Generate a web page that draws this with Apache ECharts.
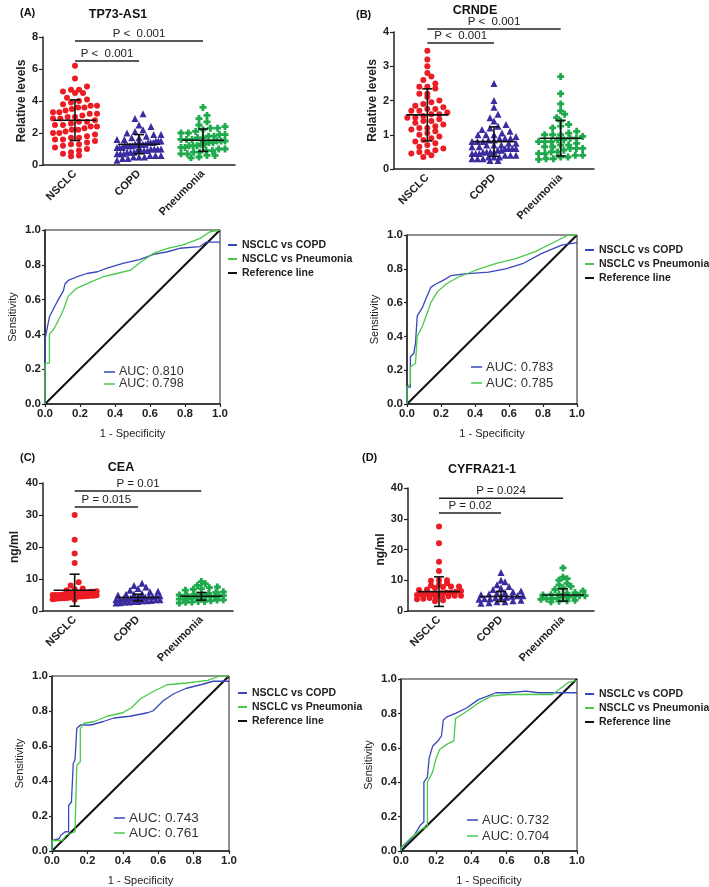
<!DOCTYPE html>
<html><head><meta charset="utf-8">
<script src="https://cdn.jsdelivr.net/npm/echarts@6/dist/echarts.min.js"></script>
<style>html,body{margin:0;padding:0;background:#fff}#c{width:709px;height:887px}</style>
</head><body><div id="c"></div>
<script>
const FONT = 'Liberation Sans, Arial, Helvetica, sans-serif';
const categories = ['NSCLC', 'COPD', 'Pneumonia'];

// ---------- (A) TP73-AS1 relative levels ----------
const tp73Nsclc = [6.2,5.4,4.9,4.7,4.7,4.6,4.5,4.5,4.2,4.1,4.0,3.9,3.8,3.7,3.7,3.6,3.6,3.5,3.4,3.3,3.3,3.2,3.2,3.1,3.0,3.0,2.9,2.9,2.8,2.7,2.7,2.6,2.5,2.5,2.4,2.4,2.3,2.2,2.2,2.1,2.0,2.0,1.9,1.8,1.7,1.7,1.6,1.6,1.5,1.4,1.3,1.3,1.2,1.1,1.0,0.9,0.8,0.7,0.6,0.55];
const tp73Copd = [3.2,2.9,2.5,2.4,2.2,2.1,2.0,1.9,1.9,1.8,1.7,1.7,1.6,1.6,1.5,1.5,1.5,1.4,1.4,1.4,1.3,1.3,1.3,1.3,1.3,1.2,1.2,1.2,1.2,1.1,1.1,1.1,1.0,1.0,1.0,1.0,0.9,0.9,0.9,0.9,0.8,0.8,0.8,0.7,0.7,0.7,0.6,0.6,0.6,0.5,0.5,0.5,0.4,0.4,0.3];
const tp73Pneu = [3.6,3.1,2.9,2.7,2.5,2.4,2.3,2.3,2.2,2.1,2.0,2.0,1.9,1.9,1.8,1.8,1.7,1.7,1.6,1.6,1.6,1.5,1.5,1.5,1.4,1.4,1.3,1.3,1.2,1.2,1.2,1.1,1.1,1.0,1.0,0.9,0.9,0.8,0.8,0.7,0.7,0.6,0.6,0.5,0.45];
const tp73Mean = [2.8, 1.3, 1.55];
const tp73Sd = [1.27, 0.6, 0.7];
const tp73P = ['P <  0.001', 'P <  0.001'];

// ---------- (B) CRNDE relative levels ----------
const crndeNsclc = [3.45,3.2,3.0,2.8,2.7,2.6,2.5,2.4,2.4,2.35,2.2,2.2,2.1,2.0,1.95,1.9,1.85,1.8,1.75,1.75,1.7,1.7,1.65,1.6,1.6,1.55,1.5,1.5,1.45,1.4,1.4,1.35,1.3,1.25,1.2,1.2,1.15,1.1,1.05,1.0,0.95,0.9,0.85,0.8,0.75,0.7,0.65,0.6,0.55,0.5,0.5,0.45,0.4,0.35];
const crndeCopd = [2.5,2.0,1.8,1.6,1.5,1.4,1.3,1.25,1.2,1.15,1.1,1.05,1.0,1.0,1.0,0.95,0.9,0.9,0.9,0.85,0.85,0.8,0.8,0.8,0.75,0.75,0.7,0.7,0.7,0.65,0.65,0.6,0.6,0.6,0.6,0.55,0.55,0.5,0.5,0.5,0.5,0.45,0.45,0.45,0.4,0.4,0.4,0.35,0.35,0.35,0.3,0.3,0.3,0.25,0.25];
const crndePneu = [2.7,2.2,1.9,1.7,1.6,1.5,1.4,1.3,1.25,1.2,1.1,1.05,1.0,1.0,1.0,0.95,0.9,0.9,0.85,0.85,0.8,0.8,0.8,0.75,0.7,0.7,0.65,0.65,0.6,0.6,0.6,0.55,0.5,0.5,0.45,0.45,0.4,0.4,0.35,0.35,0.3,0.3,0.28];
const crndeMean = [1.58, 0.8, 0.9];
const crndeSd = [0.76, 0.43, 0.52];
const crndeP = ['P <  0.001', 'P <  0.001'];

// ---------- (C) CEA ng/ml ----------
const ceaNsclc = [30,22.3,18,15,9,8,7,6.8,6.5,6.2,6,6,5.8,5.8,5.6,5.5,5.5,5.4,5.3,5.2,5.2,5.1,5,5,5,4.9,4.8,4.8,4.7,4.6,4.5,4.5,4.4,4.3,4.2,4.1,4,4,3.9,3.8,3.7,3.5];
const ceaCopd = [8.7,8,7.5,7,6.5,6.2,6,5.5,5.3,5.2,5,4.8,4.7,4.5,4.5,4.3,4.2,4.1,4,4,3.9,3.8,3.7,3.6,3.5,3.5,3.3,3.2,3.2,3,3,2.8,2.8,2.6,2.5];
const ceaPneu = [9.2,8.5,8,7.5,7.3,7,6.8,6.5,6,5.8,5.5,5.3,5.2,5,5,4.8,4.7,4.6,4.5,4.4,4.2,4.1,4,3.9,3.8,3.7,3.5,3.4,3.2,3,3,2.8,2.7,2.5];
const ceaMean = [6.5, 4.2, 4.6];
const ceaSd = [5.0, 1.05, 1.2];
const ceaP = ['P = 0.015', 'P = 0.01'];

// ---------- (D) CYFRA21-1 ng/ml ----------
const cyfraNsclc = [27.5,22,16,13,10,10,9.8,9,8.5,8.3,8,8,7.8,7.5,7,6.8,6.5,6.3,6,6,5.8,5.6,5.5,5.5,5.3,5.2,5,5,4.8,4.6,4.5,4.2,4,3.8,3.5,3.2];
const cyfraCopd = [12.5,10,9.5,8.5,8,7.5,7,6.5,6.3,6,5.8,5.5,5.3,5,5,4.8,4.5,4.5,4.3,4,4,3.8,3.5,3.3,3,3,2.7,2.5];
const cyfraPneu = [14,11,10.5,10,9,8.5,8,7.5,7,6.5,6,5.8,5.5,5.3,5.2,5,5,4.8,4.5,4.5,4.2,4,4,3.8,3.5,3.3,3.2,3];
const cyfraMean = [6.3, 4.7, 5.2];
const cyfraSd = [4.8, 1.6, 2.0];
const cyfraP = ['P = 0.02', 'P = 0.024'];

// ---------- ROC curves [1-specificity, sensitivity] ----------
const rocNames = ['NSCLC vs COPD', 'NSCLC vs Pneumonia', 'Reference line'];
const refLine = [[0,0],[1,1]];
const rocA_copd = [[0,0],[0,0.37],[0.01,0.37],[0.025,0.5],[0.05,0.55],[0.076,0.6],[0.105,0.65],[0.114,0.69],[0.133,0.71],[0.18,0.73],[0.24,0.75],[0.3,0.76],[0.35,0.78],[0.45,0.81],[0.54,0.83],[0.62,0.86],[0.7,0.875],[0.77,0.895],[0.885,0.905],[0.92,0.93],[1,0.93]];
const rocA_pneu = [[0,0],[0,0.235],[0.025,0.235],[0.025,0.4],[0.05,0.43],[0.076,0.48],[0.105,0.54],[0.133,0.62],[0.18,0.665],[0.26,0.7],[0.33,0.73],[0.41,0.75],[0.49,0.77],[0.54,0.81],[0.62,0.866],[0.7,0.895],[0.79,0.914],[0.886,0.952],[0.943,0.99],[1,1]];
const rocB_copd = [[0,0],[0,0.1],[0.02,0.1],[0.02,0.28],[0.04,0.3],[0.05,0.36],[0.06,0.52],[0.09,0.57],[0.11,0.62],[0.14,0.69],[0.17,0.71],[0.21,0.73],[0.26,0.76],[0.34,0.77],[0.48,0.78],[0.58,0.8],[0.68,0.83],[0.79,0.89],[0.91,0.94],[1,0.955]];
const rocB_pneu = [[0,0],[0,0.1],[0.02,0.12],[0.02,0.22],[0.05,0.24],[0.06,0.4],[0.09,0.46],[0.12,0.54],[0.14,0.6],[0.18,0.665],[0.23,0.71],[0.3,0.75],[0.4,0.79],[0.52,0.83],[0.64,0.86],[0.75,0.9],[0.87,0.96],[0.95,1],[1,1]];
const rocC_copd = [[0,0],[0,0.06],[0.04,0.07],[0.05,0.09],[0.075,0.11],[0.094,0.11],[0.094,0.26],[0.11,0.28],[0.12,0.5],[0.13,0.52],[0.14,0.7],[0.16,0.72],[0.22,0.72],[0.29,0.74],[0.35,0.76],[0.44,0.77],[0.54,0.79],[0.57,0.8],[0.63,0.86],[0.69,0.9],[0.76,0.93],[0.84,0.95],[0.91,0.97],[1,0.97]];
const rocC_pneu = [[0,0],[0,0.06],[0.06,0.06],[0.08,0.09],[0.13,0.11],[0.14,0.49],[0.16,0.51],[0.16,0.7],[0.18,0.73],[0.24,0.74],[0.31,0.77],[0.4,0.79],[0.45,0.82],[0.5,0.87],[0.57,0.91],[0.65,0.95],[0.76,0.96],[0.88,0.975],[0.95,1],[1,1]];
const rocD_copd = [[0,0],[0,0.02],[0.04,0.05],[0.08,0.1],[0.11,0.15],[0.13,0.17],[0.13,0.4],[0.15,0.43],[0.16,0.54],[0.17,0.55],[0.18,0.61],[0.21,0.64],[0.23,0.67],[0.24,0.76],[0.26,0.78],[0.31,0.8],[0.37,0.83],[0.44,0.88],[0.54,0.92],[0.61,0.92],[0.71,0.93],[0.78,0.92],[0.88,0.92],[1,0.92]];
const rocD_pneu = [[0,0],[0,0.02],[0.06,0.08],[0.12,0.13],[0.15,0.14],[0.15,0.4],[0.18,0.46],[0.2,0.54],[0.22,0.59],[0.26,0.62],[0.3,0.64],[0.31,0.77],[0.37,0.81],[0.44,0.86],[0.51,0.9],[0.61,0.91],[0.78,0.91],[0.86,0.91],[0.9,0.94],[0.95,0.98],[1,0.99]];
const aucA = ['0.810', '0.798'];
const aucB = ['0.783', '0.785'];
const aucC = ['0.743', '0.761'];
const aucD = ['0.732', '0.704'];

// ---------- styling ----------
const RED = '#ec1c24', NAVY = '#3a2c9e', GRN = '#1eaa4c';
const ROC_BLUE = '#3a46bd', ROC_GREEN = '#49c94a';
const PLUS = 'path://M3,0H7V3H10V7H7V10H3V7H0V3H3Z';
const groupStyle = [
  {symbol: 'circle', size: 6, color: RED},
  {symbol: 'triangle', size: 7, color: NAVY},
  {symbol: PLUS, size: 7, color: GRN}
];

const grids = [], xAxes = [], yAxes = [], series = [], legends = [], graphics = [];

// column-scatter layout: values grouped into horizontal rows, spread symmetrically
function swarm(vals, center, pxPerX, pxPerY, rowPx, gap, maxPx) {
  const rows = new Map();
  vals.forEach(v => {
    const r = Math.round(v * pxPerY / rowPx);
    if (!rows.has(r)) rows.set(r, []);
    rows.get(r).push(v);
  });
  const res = [];
  rows.forEach((list) => {
    const n = list.length;
    let sp = gap;
    if (n > 1 && (n - 1) * sp / 2 > maxPx) sp = 2 * maxPx / (n - 1);
    list.slice().sort((a, b) => a - b).forEach((v, j) => {
      const off = (j - (n - 1) / 2) * sp;
      res.push([center + off / pxPerX, v]);
    });
  });
  return res;
}

function scatterPanel(cfg) {
  const gi = grids.length;
  grids.push({left: cfg.left, top: cfg.top, width: cfg.width, height: cfg.height, containLabel: false});
  xAxes.push({
    gridIndex: gi, type: 'category', data: categories, boundaryGap: true,
    axisLine: {lineStyle: {color: '#222', width: 1.5}},
    axisTick: {alignWithLabel: true, length: 4, lineStyle: {color: '#222', width: 1.2}},
    axisLabel: {rotate: 45, margin: 7, color: '#222', fontFamily: FONT, fontWeight: 'bold', fontSize: 11}
  });
  const xVal = xAxes.length;
  xAxes.push({gridIndex: gi, type: 'value', min: 0.5, max: 3.5, show: false});
  const yi = yAxes.length;
  yAxes.push({
    gridIndex: gi, type: 'value', min: 0, max: cfg.yMax, interval: cfg.yInterval,
    name: cfg.yName, nameLocation: 'middle', nameGap: cfg.nameGap,
    nameTextStyle: {fontFamily: FONT, fontWeight: 'bold', fontSize: 12, color: '#222'},
    axisLine: {show: true, lineStyle: {color: '#222', width: 1.5}},
    axisTick: {show: true, length: 4, lineStyle: {color: '#222', width: 1.2}},
    axisLabel: {color: '#222', fontFamily: FONT, fontWeight: 'bold', fontSize: 11, margin: 5},
    splitLine: {show: false}
  });
  const pxPerX = cfg.width / 3, pxPerY = cfg.height / cfg.yMax;
  cfg.groups.forEach((vals, g) => {
    const st = groupStyle[g];
    series.push({
      type: 'scatter', xAxisIndex: xVal, yAxisIndex: yi, symbol: st.symbol, symbolSize: st.size,
      itemStyle: {color: st.color, opacity: 1}, silent: true, z: 2,
      data: swarm(vals, g + 1, pxPerX, pxPerY, cfg.rowPx, 8, cfg.maxPx)
    });
  });
  series.push({
    type: 'custom', xAxisIndex: xVal, yAxisIndex: yi, silent: true, z: 5, clip: false,
    data: cfg.means.map((m, i) => [i + 1, m, cfg.sds[i]]),
    renderItem: (params, api) => {
      const x = api.value(0), m = api.value(1), s = api.value(2);
      const c = api.coord([x, m]), hi = api.coord([x, m + s]), lo = api.coord([x, Math.max(0, m - s)]);
      const st = {stroke: '#111', lineWidth: 1.6};
      return {type: 'group', children: [
        {type: 'line', shape: {x1: c[0] - 21, y1: c[1], x2: c[0] + 21, y2: c[1]}, style: st},
        {type: 'line', shape: {x1: c[0], y1: hi[1], x2: c[0], y2: lo[1]}, style: st},
        {type: 'line', shape: {x1: c[0] - 5, y1: hi[1], x2: c[0] + 5, y2: hi[1]}, style: st},
        {type: 'line', shape: {x1: c[0] - 5, y1: lo[1], x2: c[0] + 5, y2: lo[1]}, style: st}
      ]};
    }
  });
  series.push({
    type: 'custom', xAxisIndex: xVal, yAxisIndex: yi, silent: true, z: 5, clip: false,
    data: [[1, 2, cfg.pY[0], 0], [1, 3, cfg.pY[1], 1]],
    renderItem: (params, api) => {
      const a = api.coord([api.value(0), api.value(2)]), b = api.coord([api.value(1), api.value(2)]);
      return {type: 'group', children: [
        {type: 'line', shape: {x1: a[0], y1: a[1], x2: b[0], y2: b[1]}, style: {stroke: '#222', lineWidth: 1.5}},
        {type: 'text', x: (a[0] + b[0]) / 2, y: a[1] - 1.5,
          style: {text: cfg.pText[api.value(3)], fill: '#222', font: '11.5px ' + FONT, textAlign: 'center', textVerticalAlign: 'bottom'}}
      ]};
    }
  });
  graphics.push({type: 'text', x: cfg.letterX, y: cfg.letterY,
    style: {text: cfg.letter, fill: '#111', font: 'bold 11px ' + FONT, textAlign: 'left', textVerticalAlign: 'middle'}});
  graphics.push({type: 'text', x: cfg.titleX, y: cfg.titleY,
    style: {text: cfg.title, fill: '#111', font: 'bold 12.5px ' + FONT, textAlign: 'center', textVerticalAlign: 'middle'}});
}

function rocPanel(cfg) {
  const gi = grids.length;
  grids.push({left: cfg.left, top: cfg.top, width: cfg.width, height: cfg.height, show: true,
    borderColor: '#222', borderWidth: 1, backgroundColor: 'transparent'});
  const common = {
    gridIndex: gi, type: 'value', min: 0, max: 1, interval: 0.2,
    nameLocation: 'middle',
    nameTextStyle: {fontFamily: FONT, fontSize: 11, color: '#222'},
    axisLine: {show: true, onZero: false, lineStyle: {color: '#222', width: 1.5}},
    axisTick: {show: true, length: 3, lineStyle: {color: '#222', width: 1.2}},
    axisLabel: {color: '#222', fontFamily: FONT, fontWeight: 'bold', fontSize: 11.5, margin: 4,
      formatter: v => v.toFixed(1)},
    splitLine: {show: false}
  };
  const xi = xAxes.length;
  xAxes.push(Object.assign({}, common, {name: '1 - Specificity', nameGap: 24}));
  const yi = yAxes.length;
  yAxes.push(Object.assign({}, common, {name: 'Sensitivity', nameGap: 27}));
  const curves = [cfg.copd, cfg.pneu, refLine];
  const cols = [ROC_BLUE, ROC_GREEN, '#111'];
  curves.forEach((d, k) => {
    series.push({
      type: 'line', name: rocNames[k], xAxisIndex: xi, yAxisIndex: yi, data: d,
      showSymbol: false, symbol: 'none', silent: true, z: k === 2 ? 3 : 4,
      color: cols[k], lineStyle: {color: cols[k], width: k === 2 ? 2 : 1.3}
    });
  });
  legends.push({
    left: cfg.legLeft, top: cfg.legTop, orient: 'vertical', icon: 'rect', padding: 0,
    itemWidth: 9, itemHeight: 2, itemGap: 2, selectedMode: false,
    data: rocNames,
    textStyle: {fontFamily: FONT, fontWeight: 'bold', fontSize: 10.5, color: '#222', lineHeight: 12}
  });
  cfg.auc.forEach((v, k) => {
    const y = cfg.aucY[k];
    graphics.push({type: 'line', shape: {x1: cfg.aucX, y1: y, x2: cfg.aucX + 11, y2: y},
      style: {stroke: k === 0 ? ROC_BLUE : ROC_GREEN, lineWidth: 1.5}});
    graphics.push({type: 'text', x: cfg.aucX + 15, y: y,
      style: {text: 'AUC: ' + v, fill: '#333', font: cfg.aucFont + 'px ' + FONT, textAlign: 'left', textVerticalAlign: 'middle'}});
  });
}

scatterPanel({left: 43, top: 37, width: 192, height: 128, yMax: 8, yInterval: 2, yName: 'Relative levels', nameGap: 15,
  groups: [tp73Nsclc, tp73Copd, tp73Pneu], means: tp73Mean, sds: tp73Sd, pY: [6.5, 7.75], pText: tp73P, maxPx: 22, rowPx: 7,
  letter: '(A)', letterX: 20, letterY: 13, title: 'TP73-AS1', titleX: 118, titleY: 15});
scatterPanel({left: 394, top: 32, width: 200, height: 137, yMax: 4, yInterval: 1, yName: 'Relative levels', nameGap: 15,
  groups: [crndeNsclc, crndeCopd, crndePneu], means: crndeMean, sds: crndeSd, pY: [3.68, 4.09], pText: crndeP, maxPx: 22, rowPx: 6,
  letter: '(B)', letterX: 356, letterY: 15, title: 'CRNDE', titleX: 475, titleY: 11});
scatterPanel({left: 43, top: 483, width: 190, height: 128, yMax: 40, yInterval: 10, yName: 'ng/ml', nameGap: 22,
  groups: [ceaNsclc, ceaCopd, ceaPneu], means: ceaMean, sds: ceaSd, pY: [32.5, 37.5], pText: ceaP, maxPx: 22, rowPx: 4.5,
  letter: '(C)', letterX: 20, letterY: 458, title: 'CEA', titleX: 121, titleY: 468});
scatterPanel({left: 408, top: 488, width: 186, height: 123, yMax: 40, yInterval: 10, yName: 'ng/ml', nameGap: 18,
  groups: [cyfraNsclc, cyfraCopd, cyfraPneu], means: cyfraMean, sds: cyfraSd, pY: [31.9, 36.7], pText: cyfraP, maxPx: 22, rowPx: 4.5,
  letter: '(D)', letterX: 362, letterY: 458, title: 'CYFRA21-1', titleX: 482, titleY: 470});

rocPanel({left: 45, top: 230, width: 175, height: 174, copd: rocA_copd, pneu: rocA_pneu,
  legLeft: 228, legTop: 239, auc: aucA, aucX: 104, aucY: [372, 384], aucFont: 12.5});
rocPanel({left: 407, top: 235, width: 170, height: 169, copd: rocB_copd, pneu: rocB_pneu,
  legLeft: 585, legTop: 244, auc: aucB, aucX: 471, aucY: [367, 383], aucFont: 13});
rocPanel({left: 52, top: 676, width: 177, height: 177, copd: rocC_copd, pneu: rocC_pneu,
  legLeft: 238, legTop: 687, auc: aucC, aucX: 114, aucY: [818, 833], aucFont: 13.5});
rocPanel({left: 401, top: 679, width: 176, height: 174, copd: rocD_copd, pneu: rocD_pneu,
  legLeft: 585, legTop: 688, auc: aucD, aucX: 467, aucY: [820, 836], aucFont: 13});

const chart = echarts.init(document.getElementById('c'), null, {renderer: 'canvas'});
chart.setOption({
  backgroundColor: '#fff',
  animation: false,
  textStyle: {fontFamily: FONT},
  grid: grids, xAxis: xAxes, yAxis: yAxes, series: series, legend: legends,
  graphic: {elements: graphics}
});
</script></body></html>
